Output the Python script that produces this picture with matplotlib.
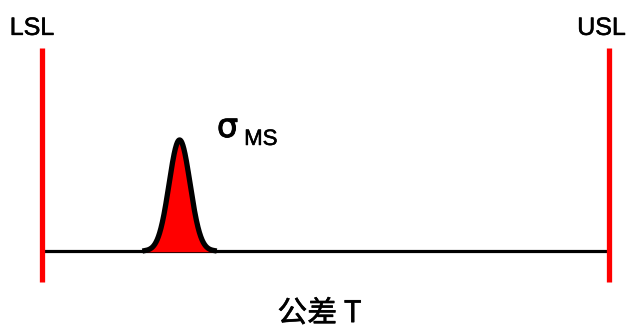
import numpy as np
import matplotlib
matplotlib.use("Agg")
import matplotlib.pyplot as plt
import matplotlib.patheffects as pe

# Spec limits and measurement distribution (in tolerance units, LSL=0, USL=100)
LSL = 0.0
USL = 100.0
mu_ms = 24.2
sigma_ms = 1.85
peak_height = 1.0
labels_limits = ["LSL", "USL"]
label_sigma = "σ"
label_sigma_sub = "MS"
label_axis = "公差 T"

fig = plt.figure(figsize=(6.27, 3.31), dpi=100)
ax = fig.add_axes([0, 0, 1, 1])
ax.set_xlim(-7.5, 103.18)
ax.set_ylim(-0.72, 2.26)
ax.axis("off")

# baseline
ax.plot([LSL, USL], [0, 0], color="black", lw=2.3, solid_capstyle="butt", zorder=2)

# limit lines
for xv in (LSL, USL):
    ax.plot([xv, xv], [-0.28, 1.83], color="#ff0000", lw=3.8, solid_capstyle="butt", zorder=4)

# normal curve
x = np.linspace(mu_ms - 3.3 * sigma_ms, mu_ms + 3.3 * sigma_ms, 300)
y = peak_height * np.exp(-0.5 * ((x - mu_ms) / sigma_ms) ** 2)
ax.fill_between(x, 0, y, color="#ff0000", zorder=3)
ax.plot(x, y, color="black", lw=3.8, solid_joinstyle="round", zorder=5)

latin = ["Liberation Sans", "DejaVu Sans"]
thick = [pe.withStroke(linewidth=0.4, foreground="black")]
# texts
ax.text(-1.85, 1.946, labels_limits[0], ha="center", va="baseline",
        fontsize=18, family=latin, path_effects=thick)
ax.text(98.68, 1.946, labels_limits[1], ha="center", va="baseline",
        fontsize=18, family=latin, path_effects=thick)
ax.text(30.8, 1.027, label_sigma, ha="left", va="baseline", fontsize=24,
        family=["DejaVu Sans"], path_effects=[pe.withStroke(linewidth=0.7, foreground="black")])
ax.text(35.6, 0.955, label_sigma_sub, ha="left", va="baseline", fontsize=16,
        family=latin, path_effects=thick)
ax.text(48.9, -0.64, label_axis, ha="center", va="baseline", fontsize=21.5,
        family=["Noto Sans CJK SC", "DejaVu Sans"], path_effects=thick)

fig.savefig("out.png", dpi=100)
